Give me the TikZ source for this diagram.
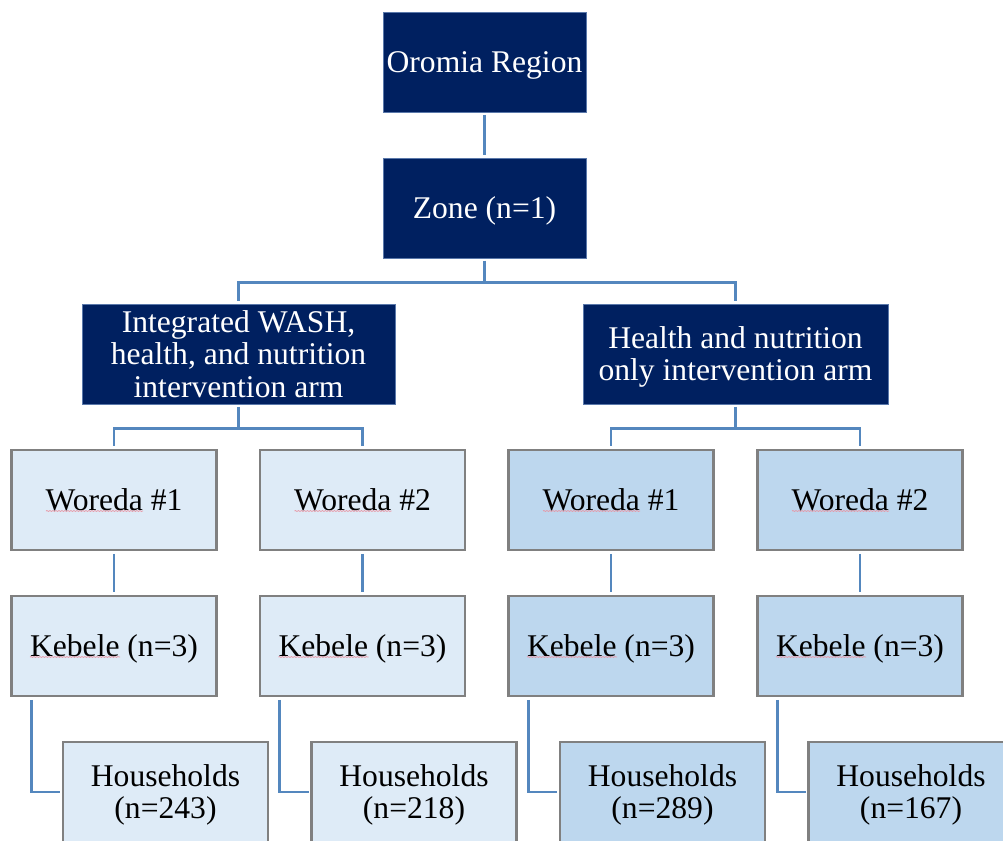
\documentclass[tikz,border=0pt]{standalone}
\usepackage{fontspec}
\setmainfont{Liberation Serif}
\usetikzlibrary{calc,decorations.pathmorphing}
\definecolor{navy}{RGB}{0,32,96}
\definecolor{navyedge}{RGB}{90,120,170}
\definecolor{lightL}{RGB}{222,235,247}
\definecolor{lightR}{RGB}{189,215,238}
\definecolor{boxedge}{RGB}{128,128,128}
\definecolor{connc}{RGB}{84,135,190}
\definecolor{squig}{RGB}{232,150,165}
\newcommand\tp{\rule{0pt}{0.891em}}
\newcommand\bt{\rule[-0.216em]{0pt}{0.216em}}
\tikzset{
  darkbox/.style={draw=navyedge, line width=0.8pt, fill=navy, text=white, inner sep=0pt, align=center,
    font=\fontsize{31.6}{32.5}\selectfont},
  lbox/.style={draw=boxedge, line width=2.7pt, fill=lightL, inner sep=0pt, align=center,
    minimum width=205, minimum height=100, font=\fontsize{31.6}{32.5}\selectfont},
  rbox/.style={lbox, fill=lightR},
  conn/.style={draw=connc, line width=2.7pt},
  gapped/.style={shorten <=2.5pt, shorten >=2.5pt},
  spell/.style={draw=squig, line width=0.7pt, decorate, decoration={snake, amplitude=0.5pt, segment length=3pt}}
}
\begin{document}
\begin{tikzpicture}[x=1pt,y=-1pt]
\useasboundingbox (0,0) rectangle (1003,840);
\clip (0,0) rectangle (1003,840);
% top
\node[darkbox, minimum width=203, minimum height=100] (oro) at (484.5,62) {\tp\bt Oromia Region};
\node[darkbox, minimum width=203, minimum height=100] (zone) at (484.5,208) {\tp\bt Zone (n=1)};
\node[darkbox, minimum width=313, minimum height=100] (armL) at (238.5,354) {\tp Integrated WASH,\\health, and nutrition\\intervention arm\bt};
\node[darkbox, minimum width=305, minimum height=100] (armR) at (735.5,354) {\tp Health and nutrition\\only intervention arm\bt};
% woreda
\node[lbox] (w1) at (114,500) {\tp\bt Woreda \#1};
\node[lbox] (w2) at (362.5,500) {\tp\bt Woreda \#2};
\node[rbox] (w3) at (611,500) {\tp\bt Woreda \#1};
\node[rbox] (w4) at (860,500) {\tp\bt Woreda \#2};
% kebele
\node[lbox] (k1) at (114,646) {\tp\bt Kebele (n=3)};
\node[lbox] (k2) at (362.5,646) {\tp\bt Kebele (n=3)};
\node[rbox] (k3) at (611,646) {\tp\bt Kebele (n=3)};
\node[rbox] (k4) at (860,646) {\tp\bt Kebele (n=3)};
% households
\node[lbox] (h1) at (165.5,792) {\tp Households\\(n=243)\bt};
\node[lbox] (h2) at (414,792) {\tp Households\\(n=218)\bt};
\node[rbox] (h3) at (662.5,792) {\tp Households\\(n=289)\bt};
\node[rbox] (h4) at (911,792) {\tp Households\\(n=167)\bt};
% connectors
\draw[conn, gapped] (oro) -- (zone);
\draw[conn, gapped] (zone.south) -- ++(0,24) -| (armL.north);
\draw[conn, gapped] (zone.south) -- ++(0,24) -| (armR.north);
\draw[conn, gapped] (armL.south) -- ++(0,24) -| (w1.north);
\draw[conn, gapped] (armL.south) -- ++(0,24) -| (w2.north);
\draw[conn, gapped] (armR.south) -- ++(0,24) -| (w3.north);
\draw[conn, gapped] (armR.south) -- ++(0,24) -| (w4.north);
\foreach \i in {1,2,3,4}{
  \draw[conn, gapped] (w\i) -- (k\i);
  \draw[conn, shorten <=2.5pt, shorten >=1.3pt] ($(k\i.south west)+(21,0)$) |- (h\i.west);
  \draw[spell] ($(w\i)+(-68,11)$) -- ($(w\i)+(29,11)$);
  \draw[spell] ($(k\i)+(-84,11)$) -- ($(k\i)+(6,11)$);
}
\end{tikzpicture}
\end{document}
